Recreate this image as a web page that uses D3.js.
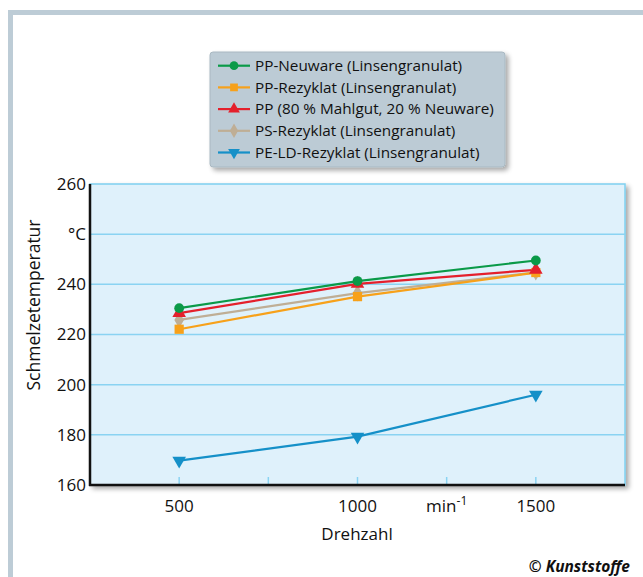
<!DOCTYPE html>
<html><head><meta charset="utf-8">
<script src="https://cdn.jsdelivr.net/npm/d3@7"></script>
<style>
body{margin:0;background:#fff;}
svg{display:block;font-family:"Open Sans",sans-serif;}
</style></head>
<body><svg id="c" width="643" height="577"></svg>
<script>
const speeds = [500, 1000, 1500];
const seriesNames = ["PP-Neuware (Linsengranulat)","PP-Rezyklat (Linsengranulat)","PP (80 % Mahlgut, 20 % Neuware)","PS-Rezyklat (Linsengranulat)","PE-LD-Rezyklat (Linsengranulat)"];
const ppNeuware = [230.5, 241.3, 249.5];
const ppRezyklat = [222.1, 235.1, 244.7];
const ppMahlgut = [228.5, 240.2, 245.8];
const psRezyklat = [225.8, 236.5, 244.8];
const peldRezyklat = [169.7, 179.3, 196.0];
const yTickValues = [160, 180, 200, 220, 240, 260, 280];
const yTickLabels = ["160","180","200","220","240","°C","260"];
const xTickValues = [500, 750, 1000, 1250, 1500];
const xTickLabels = ["500","","1000","min","1500"];

const colors = ["#0a9a48","#f7a11a","#e4202c","#bfae95","#1590c8"];
const symbols = [d3.symbolCircle, d3.symbolSquare, d3.symbolTriangle, d3.symbolDiamond, d3.symbolTriangle];
const data = [ppNeuware, ppRezyklat, ppMahlgut, psRezyklat, peldRezyklat];

const svg = d3.select("#c");
const defs = svg.append("defs");
const f = defs.append("filter").attr("id","sh").attr("x","-10%").attr("y","-10%").attr("width","130%").attr("height","130%");
f.append("feGaussianBlur").attr("in","SourceAlpha").attr("stdDeviation",2.5);
f.append("feOffset").attr("dx",3).attr("dy",3).attr("result","b");
f.append("feComponentTransfer").append("feFuncA").attr("type","linear").attr("slope",0.35);
const m = f.append("feMerge"); m.append("feMergeNode"); m.append("feMergeNode").attr("in","SourceGraphic");

// frame
svg.append("rect").attr("x",8).attr("y",10).attr("width",640).attr("height",5).attr("fill","#bdccd6");
svg.append("rect").attr("x",8).attr("y",10).attr("width",5).attr("height",570).attr("fill","#bdccd6");

const L=90, R=625, T=184, B=485;
const x = d3.scaleLinear().domain([250,1750]).range([L,R]);
const y = d3.scaleLinear().domain([160,280]).range([B,T]);

svg.append("rect").attr("x",L).attr("y",T).attr("width",R-L).attr("height",B-T)
  .attr("fill","#dff1fb").attr("stroke","#7fd0f0").attr("stroke-width",1.5).attr("filter","url(#sh)");

// gridlines
svg.append("g").selectAll("line").data(yTickValues.filter(v=>v>160&&v<280)).join("line")
  .attr("x1",L).attr("x2",R).attr("y1",d=>y(d)).attr("y2",d=>y(d))
  .attr("stroke","#8ad3f2").attr("stroke-width",1.5);

// x ticks (inner)
svg.append("g").selectAll("line").data(xTickValues).join("line")
  .attr("x1",d=>x(d)).attr("x2",d=>x(d)).attr("y1",B).attr("y2",B-8)
  .attr("stroke","#8ad3f2").attr("stroke-width",1.5);

// axes
svg.append("line").attr("x1",L).attr("x2",L).attr("y1",T).attr("y2",B+1).attr("stroke","#111").attr("stroke-width",2.5);
svg.append("line").attr("x1",L-1).attr("x2",R).attr("y1",B).attr("y2",B).attr("stroke","#111").attr("stroke-width",2.5);

// y labels
svg.append("g").selectAll("text").data(yTickValues).join("text")
  .attr("x",86).attr("y",d=>y(d)).attr("dy","0.35em").attr("text-anchor","end")
  .attr("font-size",17).attr("fill","#111").text((d,i)=>yTickLabels[i]);

// x labels
const xl = svg.append("g").selectAll("text").data(xTickValues).join("text")
  .attr("x",d=>x(d)).attr("y",512).attr("text-anchor","middle")
  .attr("font-size",17).attr("fill","#111");
xl.each(function(d,i){
  const t=d3.select(this);
  t.text(xTickLabels[i]);
  if(xTickLabels[i]==="min"){ t.append("tspan").attr("dy",-7).attr("font-size",12).text("-1"); }
});

svg.append("text").attr("x",357).attr("y",540).attr("text-anchor","middle").attr("font-size",17).attr("fill","#111").text("Drehzahl");
svg.append("text").attr("transform","translate(40,305) rotate(-90)").attr("text-anchor","middle").attr("font-size",17.5).attr("fill","#111").text("Schmelzetemperatur");
svg.append("text").attr("x",630).attr("y",572).attr("text-anchor","end").attr("font-size",15.5).attr("font-weight","bold").attr("font-style","italic").attr("fill","#111").text("© Kunststoffe");

// series
const line = d3.line().x((d,i)=>x(speeds[i])).y(d=>y(d));
const order = [3,1,2,0,4];
order.forEach(k=>{
  svg.append("path").datum(data[k]).attr("d",line).attr("fill","none").attr("stroke",colors[k]).attr("stroke-width",2.2);
});
order.forEach(k=>{
  const sz = [75,85,80,80,80][k];
  svg.append("g").selectAll("path").data(data[k]).join("path")
    .attr("transform",(d,i)=>`translate(${x(speeds[i])},${y(d)})${k===4?" rotate(180)":""}`)
    .attr("d",d3.symbol().type(symbols[k]).size(sz)).attr("fill",colors[k]);
});

// legend
const lg = svg.append("g");
lg.append("rect").attr("x",210).attr("y",52).attr("width",295).attr("height",115).attr("rx",3)
  .attr("fill","#bccbd5").attr("stroke","#a9b8c2").attr("stroke-width",1).attr("filter","url(#sh)");
seriesNames.forEach((n,i)=>{
  const cy = 65.7 + i*21.7;
  lg.append("line").attr("x1",218).attr("x2",250).attr("y1",cy).attr("y2",cy).attr("stroke",colors[i]).attr("stroke-width",2.2);
  lg.append("path").attr("transform",`translate(234,${cy})${i===4?" rotate(180)":""}`)
    .attr("d",d3.symbol().type(symbols[i]).size(60)).attr("fill",colors[i]);
  lg.append("text").attr("x",255).attr("y",cy).attr("dy","0.35em").attr("font-size",15.3).attr("fill","#111").text(n);
});
</script></body></html>
